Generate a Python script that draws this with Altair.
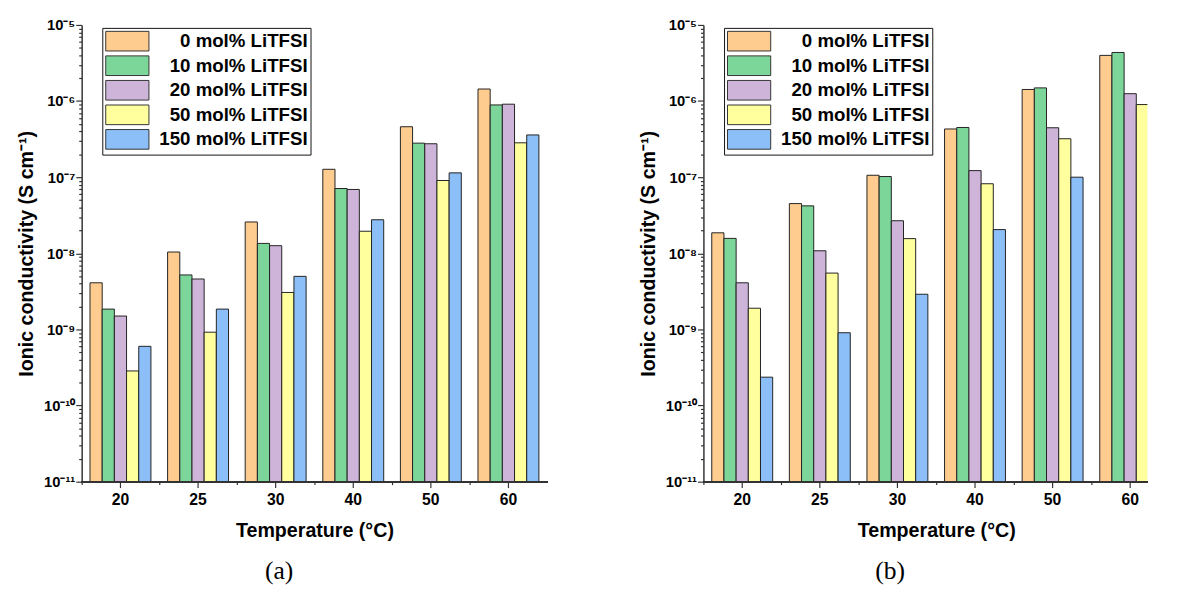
import altair as alt
import pandas as pd

temps = ["20", "25", "30", "40", "50", "60"]
series = ["0 mol% LiTFSI", "10 mol% LiTFSI", "20 mol% LiTFSI", "50 mol% LiTFSI", "150 mol% LiTFSI"]
colors = ["#FFCC8F", "#7DD699", "#CDB4D8", "#FFFF9E", "#8CBEF7"]

# panel (a) values, S/cm, one list per series (order of temps)
a_0 = [4.1e-9, 1.04e-8, 2.58e-8, 1.27e-7, 4.6e-7, 1.44e-6]
a_10 = [1.85e-9, 5.2e-9, 1.35e-8, 7.1e-8, 2.8e-7, 8.9e-7]
a_20 = [1.5e-9, 4.6e-9, 1.26e-8, 6.9e-8, 2.75e-7, 9.1e-7]
a_50 = [2.85e-10, 9.2e-10, 3.06e-9, 1.95e-8, 9.05e-8, 2.83e-7]
a_150 = [6.0e-10, 1.85e-9, 4.98e-9, 2.76e-8, 1.14e-7, 3.59e-7]

# panel (b) values
b_0 = [1.86e-8, 4.5e-8, 1.06e-7, 4.3e-7, 1.42e-6, 3.98e-6]
b_10 = [1.57e-8, 4.2e-8, 1.02e-7, 4.5e-7, 1.49e-6, 4.35e-6]
b_20 = [4.1e-9, 1.08e-8, 2.68e-8, 1.22e-7, 4.46e-7, 1.25e-6]
b_50 = [1.9e-9, 5.5e-9, 1.56e-8, 8.2e-8, 3.2e-7, 9.0e-7]
b_150 = [2.36e-10, 9.05e-10, 2.9e-9, 2.05e-8, 1.0e-7, 3.5e-7]

y_min = 1e-11
y_max = 1e-5
major_exps = list(range(-11, -4))
major_vals = [10.0 ** e for e in major_exps]
minor_vals = [k * 10.0 ** e for e in range(-11, -5) for k in range(2, 10)]
tick_vals = sorted(major_vals + minor_vals)

sup = {"-": "\u207b", "0": "\u2070", "1": "\u00b9", "2": "\u00b2", "3": "\u00b3", "4": "\u2074",
       "5": "\u2075", "6": "\u2076", "7": "\u2077", "8": "\u2078", "9": "\u2079"}


def to_sup(n):
    return "".join(sup[c] for c in str(n))


exp_expr = "round(log(datum.value)/LN10)"
major_test = f"abs(log(datum.value)/LN10 - {exp_expr}) < 0.001"
label_expr = "''"
for e in major_exps:
    label_expr = f"({exp_expr} == {e} ? '10{to_sup(e)}' : {label_expr})"
label_expr = f"({major_test}) ? {label_expr} : ''"

FONT = "Liberation Sans"
AX = "#333333"
Y_TITLE = "Ionic conductivity (S cm\u207b\u00b9)"
FULL_W = 474   # full band range of 6 temperature groups
H = 465
P_INNER = 0.215
P_OUTER = 0.1075
# tick between groups: half of the inner gap before each band, as a fraction of bandwidth
GAP_POS = -(P_INNER / 2) / (1 - P_INNER)


def make_df(cols):
    rows = []
    for s, vals in zip(series, cols):
        for t, v in zip(temps, vals):
            rows.append({"temp": t, "series": s, "value": v, "base": y_min})
    return pd.DataFrame(rows)


def panel(df, caption, view_w, hide=None):
    xscale = alt.Scale(domain=temps, paddingInner=P_INNER, paddingOuter=P_OUTER, range=[0, FULL_W])
    yscale = alt.Scale(type="log", domain=[y_min, y_max], nice=False)
    yaxis = alt.Axis(
        values=tick_vals, labelExpr=label_expr, labelOverlap=False, labelFlush=False,
        tickSize={"condition": {"test": major_test, "value": 6}, "value": 3},
        grid=False, title=Y_TITLE,
        titleFont=FONT, titleFontSize=20, titleFontWeight="bold", titleColor="black",
        titlePadding=7, labelFont=FONT, labelFontSize=15, labelFontWeight="bold",
        labelColor="black", labelPadding=1, domainColor=AX, domainWidth=1.5,
        tickColor=AX, tickWidth=1.2,
    )
    xaxis = alt.Axis(
        orient="bottom", title="Temperature (\u00b0C)", titleFont=FONT, titleFontSize=20,
        titleFontWeight="bold", titleColor="black", titlePadding=14,
        labelFont=FONT, labelFontSize=16, labelFontWeight="bold", labelColor="black",
        labelAngle=0, labelPadding=4, tickSize=6, tickColor=AX, tickWidth=1.2,
        domain=False, grid=False,
    )
    xminor = alt.Axis(
        orient="bottom", title=None, labels=False, domain=False, bandPosition=GAP_POS,
        values=temps, tickSize=3, tickColor=AX, tickWidth=1.2, grid=False,
    )
    legend = alt.Legend(
        orient="none", legendX=21, legendY=3, title=None,
        symbolType="M-1,-1H3.4V1H-1Z", symbolSize=400,
        symbolStrokeColor="#333333", symbolStrokeWidth=1, symbolOpacity=1,
        labelFont=FONT, labelFontSize=19, labelFontWeight="bold", labelColor="black",
        labelAlign="right", labelOffset=185, labelLimit=400,
        strokeColor="#111111", fillColor="white", padding=3, rowPadding=0,
    )
    base = alt.Chart(df)
    bar_src = base
    if hide is not None:
        # bar that lies beyond the visible (cropped) right edge of the panel
        bar_src = base.transform_filter(
            f"!(datum.temp == '{hide[0]}' && datum.series == '{hide[1]}')"
        )
    bars = bar_src.mark_bar(stroke="#222222", strokeWidth=1, opacity=1, clip=True).encode(
        x=alt.X("temp:N", sort=temps, scale=xscale, axis=xaxis),
        xOffset=alt.XOffset("series:N", sort=series,
                            scale=alt.Scale(domain=series, paddingInner=0, paddingOuter=0)),
        y=alt.Y("value:Q", scale=yscale, axis=yaxis),
        y2="base:Q",
        color=alt.Color("series:N", sort=series,
                        scale=alt.Scale(domain=series, range=colors), legend=legend),
    )
    minor = base.mark_point(opacity=0, clip=True).encode(
        x=alt.X("temp:N", sort=temps, scale=xscale, axis=xminor),
        y=alt.Y("value:Q", scale=yscale, axis=yaxis),
    )
    baseline = base.mark_rule(color=AX, strokeWidth=1.5).encode(
        x=alt.value(0), x2=alt.value(view_w), y=alt.value(H)
    )
    return alt.layer(bars, minor, baseline).resolve_axis(x="independent").properties(
        width=view_w, height=H,
        title=alt.TitleParams(caption, orient="bottom", anchor="middle", dx=-36, offset=18,
                              font="Liberation Serif", fontSize=26, fontWeight="normal",
                              color="black"),
    )


df_a = make_df([a_0, a_10, a_20, a_50, a_150])
df_b = make_df([b_0, b_10, b_20, b_50, b_150])

chart = alt.hconcat(
    panel(df_a, "(a)", FULL_W),
    panel(df_b, "(b)", 452, hide=("60", series[-1])),
    spacing=92,
).resolve_legend(color="independent").properties(
    padding={"left": 9, "top": 5, "right": 0, "bottom": 0}
).configure_view(stroke=None)

chart.save("out.html", embed_options={"renderer": "svg", "actions": False})
